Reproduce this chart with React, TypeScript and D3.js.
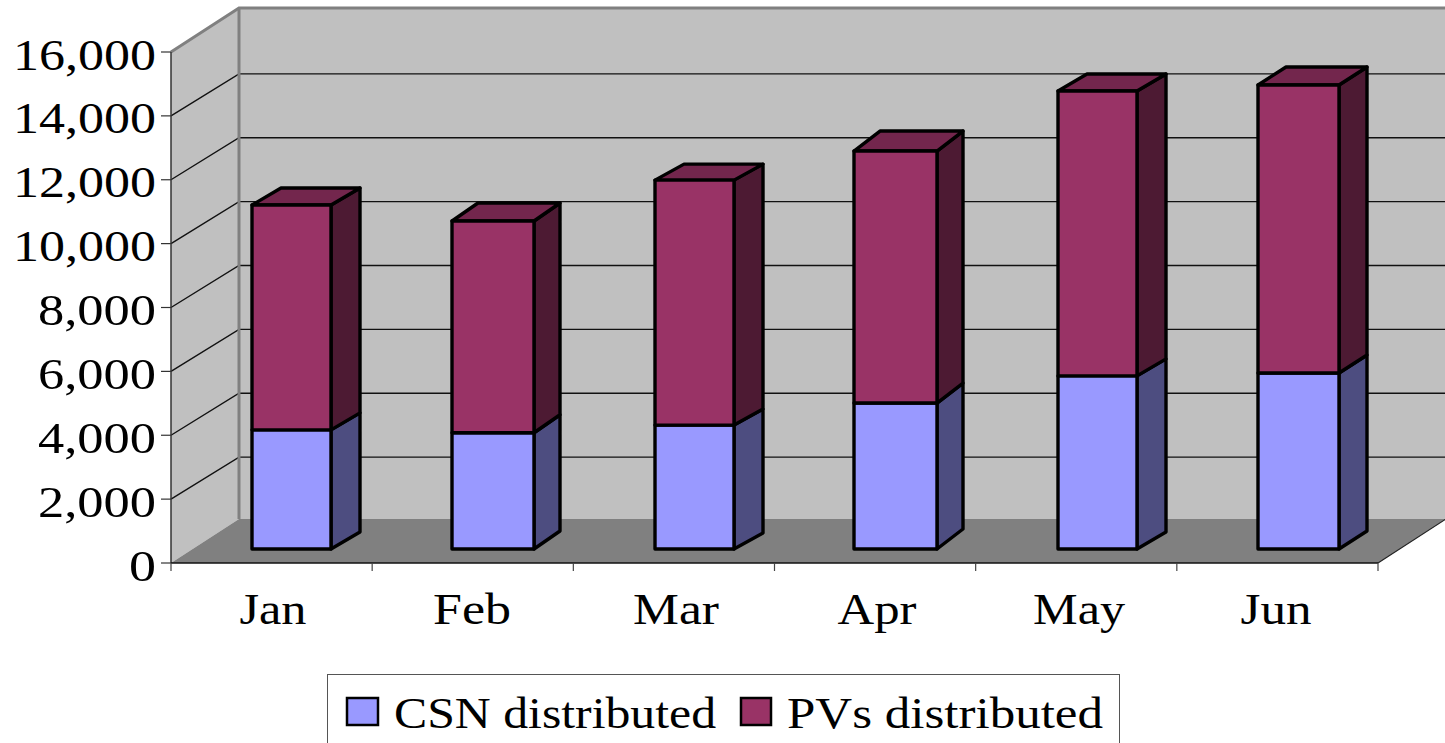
import React from "react";
import * as d3 from "d3";

const months = ["Jan", "Feb", "Mar", "Apr", "May", "Jun"];
const csn = [3730, 3640, 3880, 4570, 5420, 5510];
const pvs = [7040, 6630, 7670, 7890, 8920, 9020];
const yTicks = [0, 2000, 4000, 6000, 8000, 10000, 12000, 14000, 16000];
const yLabelWidths = [27, 118, 118, 118, 118, 143, 143, 143, 143];
const monthWidths = [67, 78, 86, 79, 92, 71];
const monthCentres = [273, 472, 676, 877, 1079, 1276];
const barLefts = [252, 452, 655, 854, 1058, 1258];
const barWidths = [79, 82, 79, 83, 79, 81];
const depthX = [29, 26, 29, 26, 29, 28];
const depthY = [-17, -18, -16, -20, -17, -18];

const W = 1445, H = 743;
const font = "'Liberation Serif', serif";
const y = d3.scaleLinear().domain([0, 16000]).range([563, 52]);
const x = d3.scaleBand<string>().domain(months).range([171, 1378]);
const back = { dx: 68, dy: -44 };
const gridDy = -42;
const barBase = { dy: -14 };
const line = d3.line();

export default function App() {
  const wy = (v: number) => y(v) + barBase.dy;
  const y0 = y(0), yT = y(16000), xL = 171, xR = 1378;
  const poly = (p: [number, number][]) => line(p) + "Z";
  return (
    <svg width={W} height={H} viewBox={`0 0 ${W} ${H}`}
      style={{ position: "absolute", left: 0, top: 0, display: "block", background: "#fff" }}>
      {/* walls */}
      <path d={poly([[xL + back.dx, yT + back.dy], [W + 5, yT + back.dy], [W + 5, y0 + back.dy], [xL + back.dx, y0 + back.dy]])} fill="#c0c0c0" />
      <path d={poly([[xL, yT], [xL + back.dx, yT + back.dy], [xL + back.dx, y0 + back.dy], [xL, y0]])} fill="#c0c0c0" />
      <path d={poly([[xL, y0], [xL + back.dx, y0 + back.dy], [xR + back.dx, y0 + back.dy], [xR, y0]])} fill="#808080" />
      <path d={line([[xL, yT], [xL + back.dx, yT + back.dy], [W + 5, yT + back.dy]]) || ""} fill="none" stroke="#808080" strokeWidth={3} />
      <path d={line([[xR, y0], [xR + back.dx, y0 + back.dy]]) || ""} fill="none" stroke="#222" strokeWidth={1.2} />
      {/* gridlines */}
      {yTicks.filter(t => t > 0 && t < 16000).map(t => (
        <path key={t} d={line([[xL, y(t)], [xL + back.dx, y(t) + gridDy], [W + 5, y(t) + gridDy]]) || ""}
          fill="none" stroke="#111" strokeWidth={1.4} />
      ))}
      <path d={line([[xL + back.dx, yT + back.dy], [xL + back.dx, y0 + back.dy]]) || ""} fill="none" stroke="#808080" strokeWidth={3} />
      {/* axes */}
      <path d={line([[xL, yT], [xL, y0]]) || ""} stroke="#333" strokeWidth={1.5} fill="none" />
      <path d={line([[xL, y0], [xR, y0]]) || ""} stroke="#111" strokeWidth={1.5} fill="none" />
      {yTicks.map(t => <path key={t} d={line([[xL - 10, y(t)], [xL, y(t)]]) || ""} stroke="#333" strokeWidth={1.2} />)}
      {[...months.map(m => x(m) as number), xR].map((px, i) => (
        <path key={i} d={line([[px, y0], [px, y0 + 8]]) || ""} stroke="#444" strokeWidth={1.2} />
      ))}
      {/* bars */}
      {months.map((m, i) => {
        const l = barLefts[i], r = l + barWidths[i];
        const a = wy(0), b = wy(csn[i]), c = wy(csn[i] + pvs[i]);
        const dx = depthX[i], dy = depthY[i];
        return (
          <g key={m} stroke="#000" strokeWidth={3.4} strokeLinejoin="round">
            <path d={poly([[r, a], [r + dx, a + dy], [r + dx, b + dy], [r, b]])} fill="#4d4d80" />
            <path d={poly([[r, b], [r + dx, b + dy], [r + dx, c + dy], [r, c]])} fill="#4d1a33" />
            <path d={poly([[l, c], [l + dx, c + dy], [r + dx, c + dy], [r, c]])} fill="#73264d" />
            <path d={poly([[l, a], [r, a], [r, b], [l, b]])} fill="#9999ff" />
            <path d={poly([[l, b], [r, b], [r, c], [l, c]])} fill="#993366" />
          </g>
        );
      })}
      {/* labels */}
      {yTicks.map((t, i) => (
        <text key={t} x={156} y={y(t) + 17.5} textAnchor="end" fontFamily={font} fontSize={44} fill="#000"
          textLength={yLabelWidths[i]} lengthAdjust="spacingAndGlyphs">{d3.format(",")(t)}</text>
      ))}
      {months.map((m, i) => (
        <text key={m} x={monthCentres[i]} y={624} textAnchor="middle" fontFamily={font} fontSize={44} fill="#000"
          textLength={monthWidths[i]} lengthAdjust="spacingAndGlyphs">{m}</text>
      ))}
      {/* legend */}
      <rect x={327.5} y={674.5} width={792} height={80} fill="#fff" stroke="#555" strokeWidth={1} />
      <rect x={347} y={698} width={31} height={27} fill="#9999ff" stroke="#000" strokeWidth={2.5} />
      <text x={394} y={728} fontFamily={font} fontSize={44} textLength={322} lengthAdjust="spacingAndGlyphs">CSN distributed</text>
      <rect x={741} y={698} width={30} height={27} fill="#993366" stroke="#000" strokeWidth={2.5} />
      <text x={787} y={728} fontFamily={font} fontSize={44} textLength={316} lengthAdjust="spacingAndGlyphs">PVs distributed</text>
    </svg>
  );
}
